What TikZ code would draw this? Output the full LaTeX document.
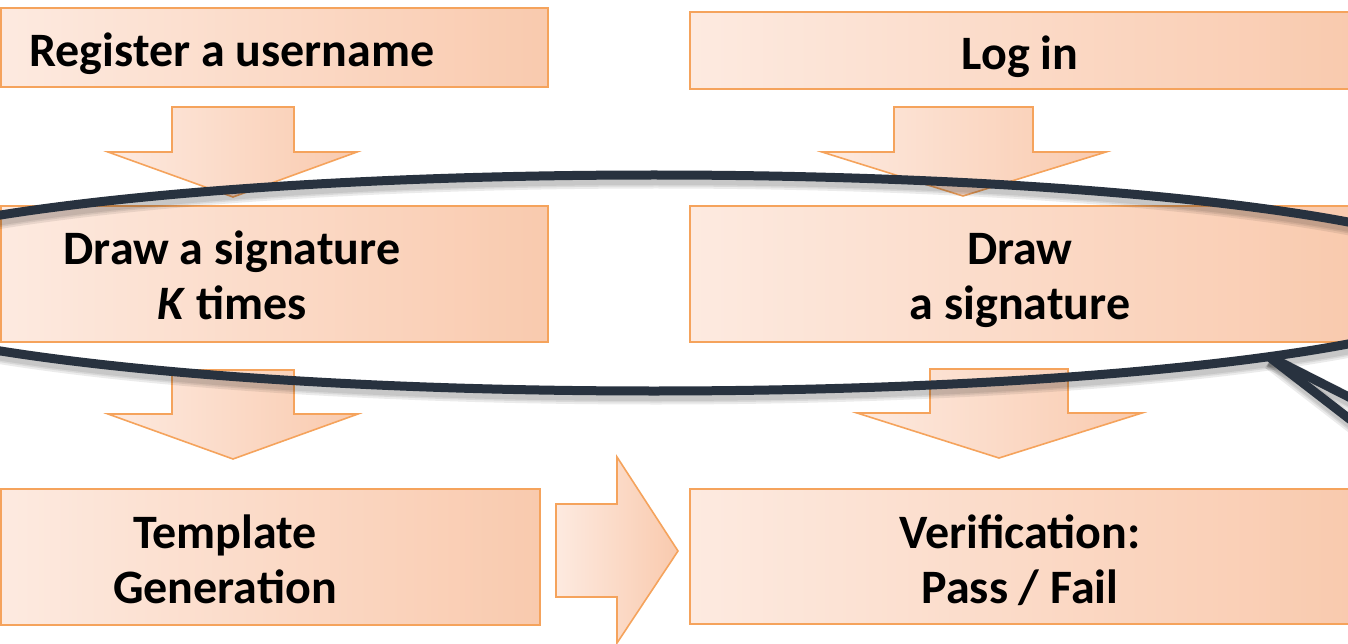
\documentclass[tikz,border=0pt]{standalone}
\usepackage{fontspec}
\setmainfont{Carlito}
\definecolor{borderc}{HTML}{F5A35C}
\definecolor{lightc}{HTML}{FDEAE0}
\definecolor{midc}{HTML}{FCE0D0}
\definecolor{darkc}{HTML}{F9CAAE}
\definecolor{navy}{HTML}{28323F}
\begin{document}
\begin{tikzpicture}[x=1pt,y=-1pt,
  box/.style={draw=borderc, line width=1.6pt, left color=lightc, middle color=midc, right color=darkc, inner sep=0pt, outer sep=0pt, anchor=north west},
  blockarrow/.style={draw=borderc, line width=1.6pt, left color=lightc, middle color=midc, right color=darkc, line join=miter},
  lbl/.style={font=\fontsize{48}{55}\selectfont\bfseries, anchor=base, inner sep=0pt},
  ring/.style={draw=navy, line width=9pt},
  ringshadow/.style={draw=black, opacity=0.08}
]
\useasboundingbox (0,0) rectangle (1348,644);
\clip (0,0) rectangle (1348,644);
\fill[white] (0,0) rectangle (1348,644);

% boxes
\node[box, minimum width=547pt, minimum height=79pt] (b1) at (1,8) {};
\node[box, minimum width=662pt, minimum height=77pt] (b2) at (690,12) {};
\node[box, minimum width=547pt, minimum height=136pt] (b3) at (1,206) {};
\node[box, minimum width=662pt, minimum height=136pt] (b4) at (690,206) {};
\node[box, minimum width=539pt, minimum height=136pt] (b5) at (1,489) {};
\node[box, minimum width=662pt, minimum height=135pt] (b6) at (690,489) {};

% block arrows
\draw[blockarrow] (172,107) -- (294,107) -- (294,152) -- (357,152) -- (233,197) -- (108,152) -- (172,152) -- cycle;
\draw[blockarrow] (894,107) -- (1033,107) -- (1033,152) -- (1106,152) -- (963,196) -- (822,152) -- (894,152) -- cycle;
\draw[blockarrow] (172,370) -- (294,370) -- (294,414) -- (358,414) -- (233,459) -- (108,414) -- (172,414) -- cycle;
\draw[blockarrow] (930,369) -- (1068,369) -- (1068,413) -- (1142,413) -- (999,458) -- (857,413) -- (930,413) -- cycle;
\draw[blockarrow] (556,504) -- (617,504) -- (617,457) -- (678,551) -- (617,643) -- (617,597) -- (556,597) -- cycle;

% labels
\node[lbl] (t1) at (232,67) {Register a username};
\node[lbl] (t2) at (1020,70) {Log in};
\node[lbl] (t3a) at (232,264) {Draw a signature};
\node[lbl] (t3b) at (232,319) {\textit{K} times};
\node[lbl] (t4a) at (1020,264) {Draw};
\node[lbl] (t4b) at (1020,319) {a signature};
\node[lbl] (t5a) at (225,548) {Template};
\node[lbl] (t5b) at (225,603) {Generation};
\node[lbl] (t6a) at (1020,548) {Verification:};
\node[lbl] (t6b) at (1020,603) {Pass / Fail};

% callout ring with shadow
\coordinate (rc) at (654,283);
\coordinate (tailroot) at (1268,356);
\coordinate (tailA) at (1400,423);
\coordinate (tailB) at (1400,458);
\foreach \w in {17,13,10} {
  \draw[ringshadow, line width=\w pt] ([shift={(2,5)}]rc) ellipse [x radius=841pt, y radius=108pt];
  \draw[ringshadow, line width=\w pt] ([shift={(2,5)}]tailroot) -- ([shift={(2,5)}]tailA);
  \draw[ringshadow, line width=\w pt] ([shift={(2,5)}]tailroot) -- ([shift={(2,5)}]tailB);
}
\draw[ring] (rc) ellipse [x radius=841pt, y radius=108pt];
\draw[ring] (tailroot) -- (tailA);
\draw[ring] (tailroot) -- (tailB);
\end{tikzpicture}
\end{document}
